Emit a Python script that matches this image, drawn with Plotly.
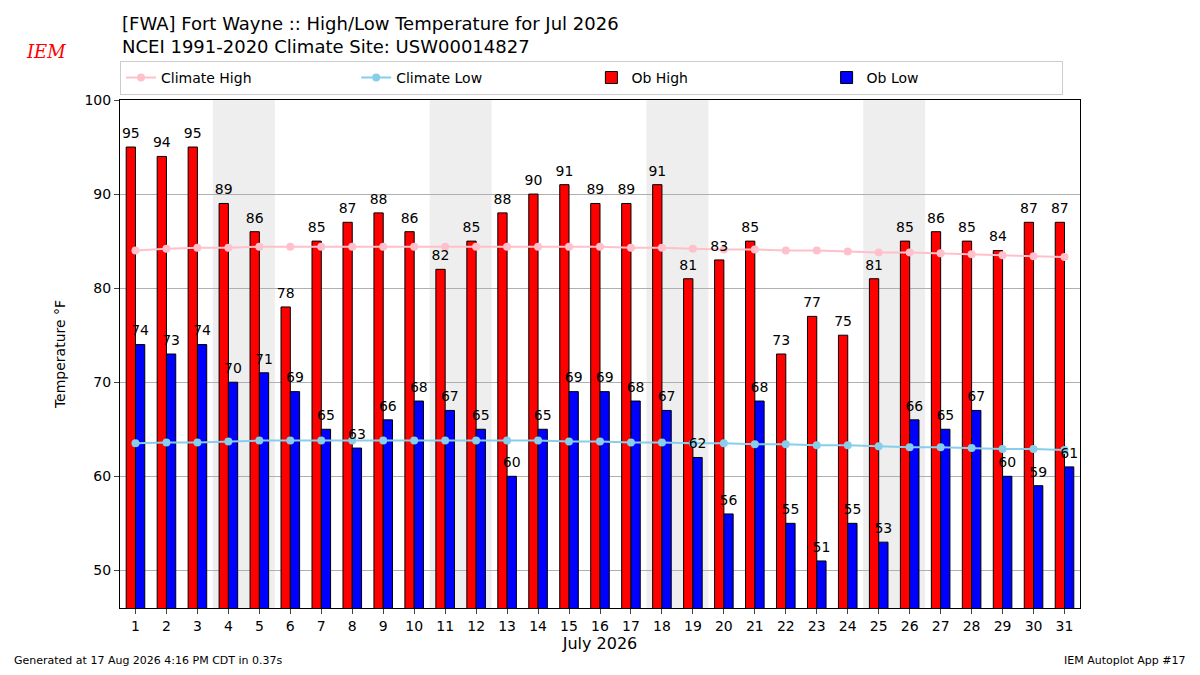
import plotly.graph_objects as go

days = list(range(1, 32))
ob_high = [95, 94, 95, 89, 86, 78, 85, 87, 88, 86, 82, 85, 88, 90, 91, 89, 89, 91, 81, 83, 85, 73, 77, 75, 81, 85, 86, 85, 84, 87, 87]
ob_low = [74, 73, 74, 70, 71, 69, 65, 63, 66, 68, 67, 65, 60, 65, 69, 69, 68, 67, 62, 56, 68, 55, 51, 55, 53, 66, 65, 67, 60, 59, 61]
clim_high = [84.0, 84.2, 84.3, 84.3, 84.4, 84.4, 84.4, 84.4, 84.4, 84.4, 84.4, 84.4, 84.4, 84.4, 84.4, 84.4, 84.3, 84.3, 84.2, 84.1,
             84.1, 84.0, 84.0, 83.9, 83.8, 83.8, 83.7, 83.6, 83.5, 83.4, 83.3]
clim_low = [63.5, 63.6, 63.6, 63.7, 63.8, 63.8, 63.8, 63.8, 63.8, 63.8, 63.8, 63.8, 63.8, 63.8, 63.7, 63.7, 63.6, 63.6, 63.5, 63.5,
            63.4, 63.4, 63.3, 63.3, 63.2, 63.1, 63.1, 63.0, 62.9, 62.9, 62.8]
weekends = [4, 11, 18, 25]

hx = [d - 0.15 for d in days]
lx = [d + 0.15 for d in days]

fig = go.Figure()
fig.add_trace(go.Bar(x=hx, y=ob_high, width=0.3, name="Ob High", legendrank=3,
                     marker=dict(color="red", line=dict(color="black", width=1))))
fig.add_trace(go.Bar(x=lx, y=ob_low, width=0.3, name="Ob Low", legendrank=4,
                     marker=dict(color="blue", line=dict(color="black", width=1))))
fig.add_trace(go.Scatter(x=days, y=clim_high, mode="lines+markers", name="Climate High", legendrank=1,
                         line=dict(color="pink", width=2), marker=dict(size=8, color="pink")))
fig.add_trace(go.Scatter(x=days, y=clim_low, mode="lines+markers", name="Climate Low", legendrank=2,
                         line=dict(color="skyblue", width=2), marker=dict(size=8, color="skyblue")))
fig.add_trace(go.Scatter(x=hx, y=[v + 0.6 for v in ob_high], mode="text", text=ob_high, textposition="top center",
                         textfont=dict(size=14, color="black"), showlegend=False, cliponaxis=False))
fig.add_trace(go.Scatter(x=lx, y=[v + 0.6 for v in ob_low], mode="text", text=ob_low, textposition="top center",
                         textfont=dict(size=14, color="black"), showlegend=False, cliponaxis=False))

for w in weekends:
    fig.add_vrect(x0=w - 0.5, x1=w + 1.5, fillcolor="#eeeeee", line_width=0, layer="below")

fig.update_layout(
    width=1200, height=675, barmode="overlay", plot_bgcolor="white", paper_bgcolor="white",
    font=dict(family="DejaVu Sans", size=14, color="black"),
    margin=dict(l=112, r=128, t=92, b=75),
    showlegend=True,
    legend=dict(orientation="h", x=0.0, y=1.01, xanchor="left", yanchor="bottom",
                entrywidthmode="fraction", entrywidth=0.245, bordercolor="#cccccc", borderwidth=1,
                font=dict(size=14), traceorder="normal"),
    xaxis=dict(range=[0.5, 31.5], tickvals=days, showgrid=False, mirror=True, showline=True,
               linecolor="black", ticks="outside", title=dict(text="July 2026", font=dict(size=16), standoff=2)),
    yaxis=dict(range=[46, 100], tickvals=[50, 60, 70, 80, 90, 100], showgrid=True, gridcolor="#b0b0b0",
               mirror=True, showline=True, linecolor="black", ticks="outside",
               title=dict(text="Temperature °F", font=dict(size=14))),
    annotations=[
        dict(text="[FWA] Fort Wayne :: High/Low Temperature for Jul 2026<br>NCEI 1991-2020 Climate Site: USW00014827",
             xref="paper", yref="paper", x=0, y=1.08, xanchor="left", yanchor="bottom", align="left",
             showarrow=False, font=dict(size=18)),
        dict(text="Generated at 17 Aug 2026 4:16 PM CDT in 0.37s", xref="paper", yref="paper",
             x=-0.1125, y=-0.12, xanchor="left", showarrow=False, font=dict(size=11)),
        dict(text="IEM Autoplot App #17", xref="paper", yref="paper", x=1.1125, y=-0.12,
             xanchor="right", showarrow=False, font=dict(size=11)),
        dict(text="<i>IEM</i>", xref="paper", yref="paper", x=-0.1, y=1.12, xanchor="left",
             showarrow=False, font=dict(size=18, color="red", family="DejaVu Serif")),
    ],
)
fig.write_html("out.html")
